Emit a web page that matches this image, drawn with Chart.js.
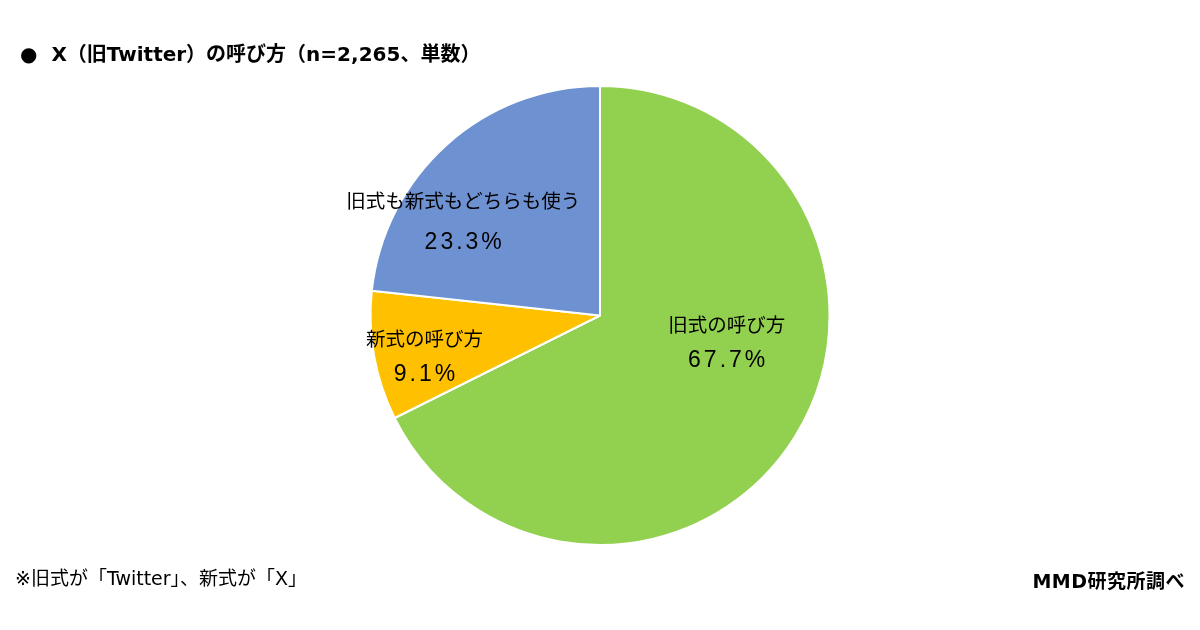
<!DOCTYPE html>
<html>
<head>
<meta charset="utf-8">
<script src="https://cdn.jsdelivr.net/npm/chart.js@4/dist/chart.umd.min.js"></script>
<style>
  html, body { margin: 0; padding: 0; background: #fff; }
  #wrap { position: relative; width: 1200px; height: 630px; overflow: hidden; }
  #chart { position: absolute; left: 0; top: 0; }
  .txt { position: absolute; font-family: "DejaVu Sans", "Noto Sans CJK JP", sans-serif; color: #000; white-space: nowrap; }
  #title { left: 20px; top: 38px; font-size: 20px; font-weight: bold; }
  #note { left: 15px; top: 563px; font-size: 19px; }
  #source { right: 15px; top: 566px; font-size: 19px; font-weight: bold; letter-spacing: 0.5px; }
</style>
</head>
<body>
<div id="wrap">
  <canvas id="chart" width="1200" height="630"></canvas>
  <div class="txt" id="title">●&nbsp;&nbsp;X（旧Twitter）の呼び方（n=2,265、単数）</div>
  <div class="txt" id="note">※旧式が「Twitter」、新式が「X」</div>
  <div class="txt" id="source">MMD研究所調べ</div>
</div>
<script>
// data
const categories = ['旧式の呼び方', '新式の呼び方', '旧式も新式もどちらも使う'];
const shares = [67.7, 9.1, 23.3];
const sliceColors = ['#92D050', '#FFC000', '#6E91D1'];
// label centre relative to pie centre, in units of radius
const labelOffsets = [[0.552, 0.12], [-0.765, 0.18], [-0.596, -0.41]];
// half the gap between the name line and the percent line
const lineGaps = [18, 18, 21];

const labelPlugin = {
    id: 'sliceLabels',
    afterDatasetsDraw(chart) {
        const ctx = chart.ctx;
        const meta = chart.getDatasetMeta(0);
        ctx.save();
        ctx.fillStyle = '#000';
        ctx.textAlign = 'center';
        ctx.textBaseline = 'middle';
        meta.data.forEach((arc, i) => {
            const r = arc.outerRadius;
            const x = arc.x + labelOffsets[i][0] * r;
            const y = arc.y + labelOffsets[i][1] * r;
            ctx.font = '19.5px "Noto Sans CJK JP", sans-serif';
            ctx.letterSpacing = '0px';
            ctx.fillText(categories[i], x, y - lineGaps[i]);
            ctx.font = '23px "Liberation Sans", sans-serif';
            ctx.letterSpacing = '3px';
            ctx.fillText(shares[i].toFixed(1) + '%', x + 1.5, y + lineGaps[i]);
        });
        ctx.restore();
    }
};

new Chart(document.getElementById('chart').getContext('2d'), {
    type: 'pie',
    data: {
        labels: categories,
        datasets: [{
            data: shares,
            backgroundColor: sliceColors,
            borderColor: '#ffffff',
            borderWidth: 2
        }]
    },
    options: {
        responsive: false,
        animation: false,
        rotation: 0,
        layout: { padding: { top: 85, bottom: 84, left: 0, right: 0 } },
        plugins: {
            legend: { display: false },
            tooltip: { enabled: false }
        }
    },
    plugins: [labelPlugin]
});
</script>
</body>
</html>
